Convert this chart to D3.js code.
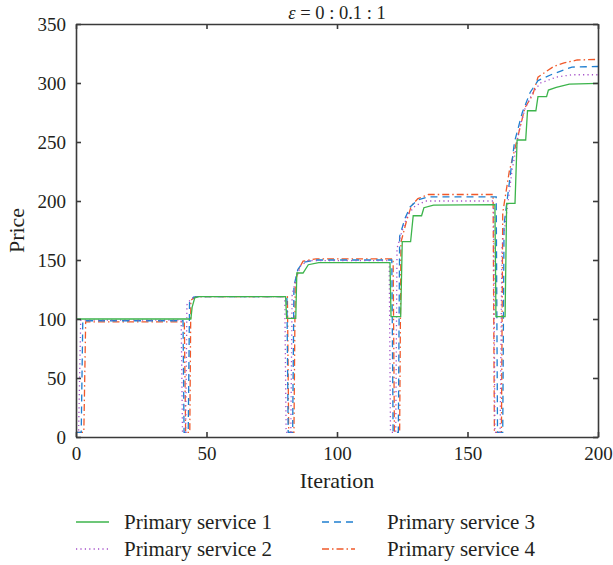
<!DOCTYPE html>
<html>
<head>
<meta charset="utf-8">
<script src="https://cdn.jsdelivr.net/npm/d3@7"></script>
<style>
  html, body { margin: 0; padding: 0; background: #fff; }
  svg { display: block; }
  text { font-family: "Liberation Serif", "DejaVu Serif", serif; fill: #231f20; }
</style>
</head>
<body>
<svg id="chart" width="613" height="565"></svg>
<script>
// ---- data ----
const xTicks = [0, 50, 100, 150, 200];
const yTicks = [0, 50, 100, 150, 200, 250, 300, 350];
const seriesNames = ["Primary service 1", "Primary service 2", "Primary service 3", "Primary service 4"];

// [iteration, price] breakpoints
const service1 = [[0,100],[44,100],[44.5,110],[45.5,118],[47,119],[80.3,119],[80.7,100.5],[84.2,100.5],[84.6,139],[87,139],[89,146],[93,147.8],[120.3,147.8],[120.7,102],[124.4,102],[125,165.5],[128.2,165.5],[129.2,187.5],[132.4,187.5],[133.3,194.3],[137,196.5],[160.5,197],[160.9,102],[164.4,102],[165,198],[168.2,198],[169,251.7],[172.3,251.7],[173,276.5],[176.2,276.5],[177,288.4],[180.3,288.4],[181,294],[184,296.3],[189,299],[200,299.7]];
const service2 = [[0,4],[1,4],[1.8,99],[40.3,99],[40.8,4],[42,4],[42.5,112],[44,117],[46,119],[80,119],[80.5,4],[82.3,4],[82.8,120],[84,132],[86,145],[89,149.5],[120,149.5],[120.5,4],[122.5,4],[123,160],[125,175],[127,188],[130,196],[134,200],[160,200],[160.5,4],[162.5,4],[163.2,160],[165,190],[167,225],[170,262],[172,278],[175,292],[178,300],[184,305],[190,307],[200,307]];
const service3 = [[0,4],[2,4],[2.6,98.5],[41,98.5],[41.4,4],[43,4],[43.5,114],[45,118.5],[47,119],[80.8,119],[81.3,4],[83,4],[83.5,128],[85,142],[87,148],[92,150],[121,150],[121.5,4],[123.5,4],[124,170],[126,185],[128,195],[131,201],[135,203.5],[161,203.5],[161.5,4],[163.5,4],[164,180],[166,215],[168,250],[171,275],[174,292],[177,302],[182,307],[190,313.5],[200,314]];
const service4 = [[0,4],[3,4],[3.7,97.5],[41.5,97.5],[42,4],[43.6,4],[44,116],[46,119],[81,119],[81.5,4],[83.5,4],[84,132],[85.5,143],[87,149],[92,151],[121.5,151],[122,4],[124,4],[124.5,165],[126.5,182],[128.5,196],[131,202],[135,205.5],[159.8,205.5],[160.3,4],[163,4],[163.5,190],[166,225],[169,252],[172,279],[175,290],[177,305],[183,314],[187,317],[192,319.5],[200,320]];

const seriesData = [service1, service2, service3, service4];
const colors = ["#3cb44b", "#a44fc8", "#1f7fd0", "#f0592a"];
const dashes = [null, "1.2,3.2", "7,5", "7,3,1.5,3"];

// ---- layout ----
const svg = d3.select("#chart");
const m = { left: 76, right: 598, top: 24, bottom: 437 };
const x = d3.scaleLinear().domain([0, 200]).range([m.left, m.right]);
const y = d3.scaleLinear().domain([0, 350]).range([m.bottom, m.top]);
const axisColor = "#3a3a3a";
const tickLen = 5;

// lines
const line = d3.line().x(d => x(d[0])).y(d => y(d[1]));
const g = svg.append("g");
[3, 2, 1, 0].forEach(i => {
  g.append("path")
    .datum(seriesData[i])
    .attr("d", line)
    .attr("fill", "none")
    .attr("stroke", colors[i])
    .attr("stroke-width", 1.3)
    .attr("stroke-dasharray", dashes[i]);
});

// axes (inward ticks, mirrored)
function styleAxis(sel) {
  sel.selectAll("path.domain").attr("stroke", axisColor).attr("stroke-width", 1.6);
  sel.selectAll(".tick line").attr("stroke", axisColor).attr("stroke-width", 1.6);
  sel.selectAll(".tick text").style("font-size", "19px").attr("fill", "#231f20")
     .style("font-family", '"Liberation Serif", serif');
}
const xb = svg.append("g").attr("transform", `translate(0,${m.bottom})`)
  .call(d3.axisBottom(x).tickValues(xTicks).tickSizeInner(-tickLen).tickSizeOuter(0).tickPadding(10));
styleAxis(xb);
const xt = svg.append("g").attr("transform", `translate(0,${m.top})`)
  .call(d3.axisTop(x).tickValues(xTicks).tickSizeInner(-tickLen).tickSizeOuter(0).tickFormat(""));
styleAxis(xt);
const yl = svg.append("g").attr("transform", `translate(${m.left},0)`)
  .call(d3.axisLeft(y).tickValues(yTicks).tickSizeInner(-tickLen).tickSizeOuter(0).tickPadding(10));
styleAxis(yl);
const yr = svg.append("g").attr("transform", `translate(${m.right},0)`)
  .call(d3.axisRight(y).tickValues(yTicks).tickSizeInner(-tickLen).tickSizeOuter(0).tickFormat(""));
styleAxis(yr);

// axis titles
svg.append("text").attr("x", (m.left + m.right) / 2).attr("y", 488)
  .attr("text-anchor", "middle").style("font-size", "22px").text("Iteration");
svg.append("text").attr("transform", `translate(24,${(m.top + m.bottom) / 2}) rotate(-90)`)
  .attr("text-anchor", "middle").style("font-size", "22px").text("Price");

// title
const title = svg.append("text").attr("x", (m.left + m.right) / 2).attr("y", 19)
  .attr("text-anchor", "middle").style("font-size", "18.5px");
title.append("tspan").style("font-style", "italic").text("ε");
title.append("tspan").text(" = 0 : 0.1 : 1");

// legend
const legLine = [[76, 522], [76, 549], [322, 522], [322, 549]];
const legText = [124, 124, 387, 387];
seriesNames.forEach((name, i) => {
  const [lx, ly] = legLine[i];
  svg.append("line").attr("x1", lx).attr("x2", lx + 33).attr("y1", ly).attr("y2", ly)
    .attr("stroke", colors[i]).attr("stroke-width", 1.3).attr("stroke-dasharray", dashes[i]);
  svg.append("text").attr("x", legText[i]).attr("y", ly + 7).style("font-size", "21px").text(name);
});
</script>
</body>
</html>
